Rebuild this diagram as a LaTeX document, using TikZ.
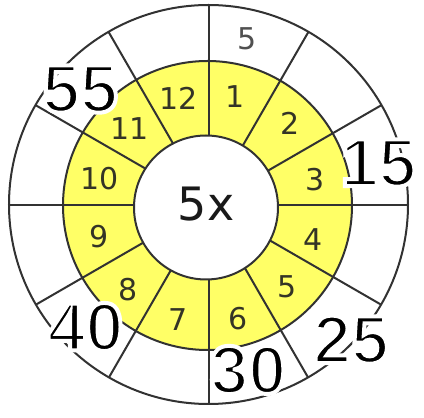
\documentclass[tikz,border=0pt]{standalone}
\usepackage{fontspec}
\setmainfont{DejaVu Sans}
\newfontfamily\labelfont{Liberation Sans Bold}
\definecolor{ringyellow}{RGB}{255,255,102}
\definecolor{linegray}{RGB}{50,50,50}
\definecolor{cellnumc}{RGB}{52,52,38}
\definecolor{topnumc}{RGB}{80,80,80}
\newcommand{\haloed}[1]{\special{pdf:literal direct 2 Tr 1 1 1 RG 4 w}#1\special{pdf:literal direct 0 Tr}}
\begin{document}
\begin{tikzpicture}[x=1pt,y=1pt,
  ring/.style={draw=linegray, line width=2pt},
  cellnum/.style={text=cellnumc, font=\fontsize{30}{30}\selectfont, inner sep=0pt},
  topnum/.style={text=topnumc, font=\fontsize{30}{30}\selectfont, inner sep=0pt},
  midlabel/.style={text=black!90, font=\fontsize{46}{46}\selectfont, inner sep=0pt},
  bignum/.style={text=black, font=\labelfont\fontsize{68}{68}\selectfont, inner sep=0pt}]
\useasboundingbox (0,0) rectangle (424,418);
\fill[white] (0,0) rectangle (424,418);
\coordinate (L) at (208.5,213);
\coordinate (O) at (208.5,213.5);
\coordinate (Y) at (207.5,212.5);
\coordinate (I) at (206,210.5);
% yellow ring
\fill[ringyellow] (Y) circle[radius=144.5];
% radial dividers
\foreach \a in {0,30,...,330} \draw[ring] (L) -- ++(\a:199.5);
% circles
\draw[ring] (Y) circle[radius=144.5];
\draw[ring] (O) circle[radius=199.5];
\filldraw[ring, fill=white] (I) circle[radius=72];
% cell numbers
\node[cellnum] (c1) at (235.5,321) {1};
\node[cellnum] (c2) at (290.5,294.5) {2};
\node[cellnum] (c3) at (315.5,238) {3};
\node[cellnum] (c4) at (313.5,178.5) {4};
\node[cellnum] (c5) at (287.5,131.5) {5};
\node[cellnum] (c6) at (238,99) {6};
\node[cellnum] (c7) at (178.5,98.5) {7};
\node[cellnum] (c8) at (128.5,128.5) {8};
\node[cellnum] (c9) at (99,181.5) {9};
\node[cellnum] (c10) at (99.5,239) {10};
\node[cellnum] (c11) at (130,289.5) {11};
\node[cellnum] (c12) at (178.5,319.5) {12};
% outer ring entry
\node[topnum] (t5) at (247.5,379.5) {5};
% centre
\node[midlabel] (mid) at (206,214) {5x};
% big answers
\node[bignum] (n55) at (80,329) {\haloed{55}};
\node[bignum] (n15) at (378.5,255) {\haloed{15}};
\node[bignum] (n40) at (85.5,91) {\haloed{40}};
\node[bignum] (n25) at (351,78.3) {\haloed{25}};
\node[bignum] (n30) at (248.3,48) {\haloed{30}};
\end{tikzpicture}
\end{document}
